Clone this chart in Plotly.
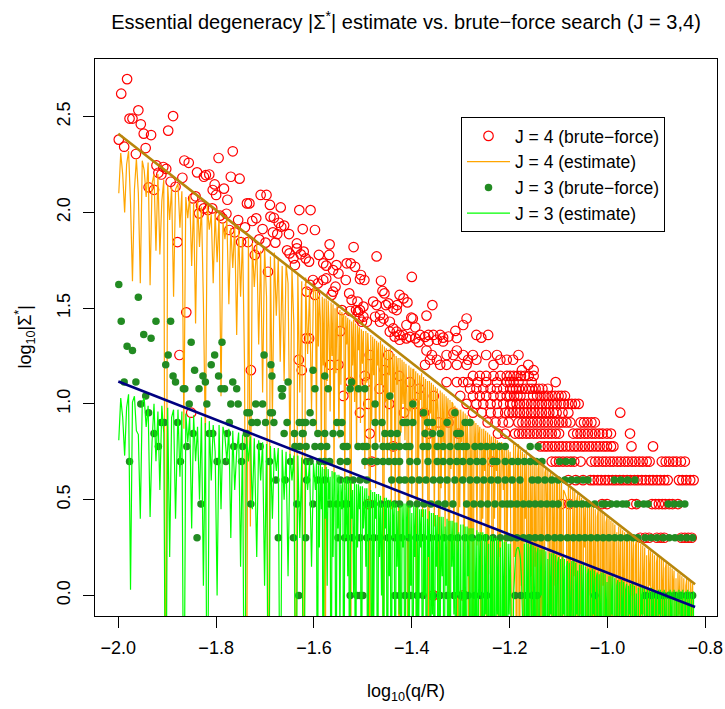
import math
import plotly.graph_objects as go

# ---------------- data ----------------
# common log10(q/R) grid of the two estimate curves (coarser on the left, finer further right)
EST_X = [
    -1.999, -1.995, -1.991, -1.987, -1.983, -1.979, -1.975, -1.971, -1.967, -1.963,
    -1.959, -1.955, -1.951, -1.947, -1.943, -1.939, -1.935, -1.931, -1.927, -1.923,
    -1.919, -1.915, -1.911, -1.907, -1.903, -1.899, -1.895, -1.891, -1.887, -1.883,
    -1.878, -1.874, -1.870, -1.866, -1.862, -1.858, -1.854, -1.850, -1.846, -1.842,
    -1.838, -1.834, -1.830, -1.826, -1.822, -1.818, -1.814, -1.810, -1.806, -1.802,
    -1.798, -1.794, -1.790, -1.786, -1.782, -1.778, -1.774, -1.770, -1.766, -1.762,
    -1.758, -1.754, -1.750, -1.746, -1.742, -1.738, -1.734, -1.730, -1.726, -1.722,
    -1.717, -1.713, -1.709, -1.705, -1.701, -1.697, -1.693, -1.689, -1.685, -1.681,
    -1.677, -1.673, -1.669, -1.665, -1.661, -1.657, -1.653, -1.649, -1.645, -1.641,
    -1.637, -1.633, -1.629, -1.625, -1.621, -1.617, -1.613, -1.609, -1.605, -1.601,
    -1.597, -1.595, -1.593, -1.591, -1.589, -1.587, -1.585, -1.583, -1.581, -1.579,
    -1.577, -1.575, -1.573, -1.571, -1.569, -1.567, -1.565, -1.563, -1.561, -1.559,
    -1.557, -1.555, -1.553, -1.551, -1.549, -1.547, -1.545, -1.543, -1.541, -1.539,
    -1.537, -1.535, -1.533, -1.531, -1.529, -1.527, -1.525, -1.523, -1.521, -1.519,
    -1.517, -1.515, -1.513, -1.511, -1.509, -1.507, -1.505, -1.503, -1.501, -1.499,
    -1.496, -1.494, -1.492, -1.490, -1.488, -1.486, -1.484, -1.482, -1.480, -1.478,
    -1.476, -1.474, -1.472, -1.470, -1.468, -1.466, -1.464, -1.462, -1.460, -1.458,
    -1.456, -1.454, -1.452, -1.450, -1.448, -1.446, -1.444, -1.442, -1.440, -1.438,
    -1.436, -1.434, -1.432, -1.430, -1.428, -1.426, -1.424, -1.422, -1.420, -1.418,
    -1.416, -1.414, -1.412, -1.410, -1.408, -1.406, -1.404, -1.402, -1.400, -1.398,
    -1.396, -1.394, -1.392, -1.390, -1.388, -1.386, -1.384, -1.382, -1.380, -1.378,
    -1.376, -1.374, -1.372, -1.370, -1.368, -1.366, -1.364, -1.362, -1.360, -1.358,
    -1.356, -1.354, -1.352, -1.350, -1.348, -1.346, -1.344, -1.342, -1.340, -1.338,
    -1.336, -1.334, -1.332, -1.330, -1.328, -1.326, -1.324, -1.322, -1.320, -1.318,
    -1.316, -1.314, -1.312, -1.310, -1.308, -1.306, -1.304, -1.302, -1.300, -1.298,
    -1.295, -1.293, -1.291, -1.289, -1.287, -1.285, -1.283, -1.281, -1.279, -1.277,
    -1.275, -1.273, -1.271, -1.269, -1.267, -1.265, -1.263, -1.261, -1.259, -1.257,
    -1.255, -1.253, -1.251, -1.249, -1.247, -1.245, -1.243, -1.241, -1.239, -1.237,
    -1.235, -1.233, -1.231, -1.229, -1.227, -1.225, -1.223, -1.221, -1.219, -1.217,
    -1.215, -1.213, -1.211, -1.209, -1.207, -1.205, -1.203, -1.201, -1.199, -1.197,
    -1.194, -1.192, -1.190, -1.188, -1.186, -1.184, -1.182, -1.180, -1.178, -1.176,
    -1.174, -1.172, -1.170, -1.168, -1.166, -1.164, -1.162, -1.160, -1.158, -1.156,
    -1.154, -1.152, -1.150, -1.148, -1.146, -1.144, -1.142, -1.140, -1.138, -1.136,
    -1.134, -1.132, -1.130, -1.128, -1.126, -1.124, -1.122, -1.120, -1.118, -1.116,
    -1.114, -1.112, -1.110, -1.108, -1.106, -1.104, -1.102, -1.100, -1.098, -1.096,
    -1.094, -1.092, -1.090, -1.088, -1.086, -1.084, -1.082, -1.080, -1.078, -1.076,
    -1.073, -1.071, -1.069, -1.067, -1.065, -1.063, -1.061, -1.059, -1.057, -1.055,
    -1.053, -1.051, -1.049, -1.047, -1.045, -1.043, -1.041, -1.039, -1.037, -1.035,
    -1.033, -1.031, -1.029, -1.027, -1.025, -1.023, -1.021, -1.019, -1.017, -1.015,
    -1.013, -1.011, -1.009, -1.007, -1.005, -1.003, -1.001, -0.999, -0.997, -0.995,
    -0.993, -0.991, -0.989, -0.987, -0.985, -0.983, -0.981, -0.979, -0.977, -0.975,
    -0.973, -0.971, -0.969, -0.967, -0.965, -0.963, -0.961, -0.959, -0.957, -0.955,
    -0.953, -0.951, -0.949, -0.947, -0.945, -0.943, -0.941, -0.939, -0.937, -0.935,
    -0.932, -0.930, -0.928, -0.926, -0.924, -0.922, -0.920, -0.918, -0.916, -0.914,
    -0.912, -0.910, -0.908, -0.906, -0.904, -0.902, -0.900, -0.898, -0.896, -0.894,
    -0.892, -0.890, -0.888, -0.886, -0.884, -0.882, -0.880, -0.878, -0.876, -0.874,
    -0.872, -0.870, -0.868, -0.866, -0.864, -0.862, -0.860, -0.858, -0.856, -0.854,
    -0.852, -0.850, -0.848, -0.846, -0.844, -0.842, -0.840, -0.838, -0.836, -0.834,
    -0.832, -0.830, -0.828, -0.826, -0.824,
]

# log10 of the J = 4 estimate (values below the axis are drops toward zero)
J4_EST_Y = [
    2.10, 2.31, 2.20, 2.00, 2.25, 2.32, 2.05, 1.64, 2.12, 2.28,
    2.10, 1.63, 2.27, 2.22, 2.08, 2.26, 1.62, 2.15, 2.20, 1.80,
    2.20, 1.78, 2.06, 2.17, -1.0, 2.14, 1.96, 2.13, 1.56, 2.12,
    2.15, 1.92, 2.11, 0.87, 2.08, 1.97, 2.09, 1.72, 2.05, 1.42,
    2.06, 1.82, 2.03, 1.53, 0.81, 2.04, 1.91, 1.99, 1.63, 2.00,
    1.74, 1.99, 1.04, 1.95, 1.86, 1.96, 1.52, 1.92, 1.71, 1.93,
    1.36, 1.91, 1.56, 1.87, 1.21, -1.0, 1.88, 0.36, 1.84, 1.61,
    1.84, 1.31, 1.80, 1.06, 1.82, 1.56, -1.0, 1.77, 0.92, 1.79,
    1.46, 1.76, 1.22, 1.72, 1.12, 1.73, 1.63, 0.72, 1.70, 1.41,
    -1.0, 1.68, 1.06, 1.64, -1.0, 1.66, 1.26, 1.60, 0.96, 1.62,
    1.58, 0.86, 1.59, 1.30, 1.57, 1.45, 0.71, 1.56, 1.20, 1.55,
    -1.0, 1.55, 1.12, 1.54, 1.40, 0.96, 1.53, 1.25, 1.52, 0.61,
    1.50, 1.16, 1.51, 1.35, 0.82, 1.49, 1.10, 1.48, 1.40, 1.47,
    0.55, 1.46, 1.31, 1.45, 1.05, 1.44, -1.0, 1.43, 1.20, 1.44,
    1.01, 1.42, 0.76, 1.41, 1.28, 1.40, 0.90, 1.39, 1.21, 1.38,
    0.66, 1.38, 1.11, 1.37, 1.25, -1.0, 1.36, 0.91, 1.35, 1.15,
    1.34, 0.56, 1.33, 1.20, 1.32, 0.80, 1.33, 1.10, 1.31, -1.0,
    1.30, 1.01, 1.29, 0.71, 1.28, 1.15, 1.29, 0.45, 1.27, 1.06,
    1.26, 0.46, 1.25, 1.10, 1.24, -1.0, 1.24, 0.85, 1.23, 1.00,
    1.22, 0.81, 1.21, 1.05, -1.0, 1.20, 0.96, 1.19, 0.51, 1.18,
    1.18, 0.90, 1.17, -1.0, 1.16, 0.71, 1.15, 1.02, 1.16, 0.41,
    1.14, 0.91, 1.13, 0.60, 1.12, -1.0, 1.12, 0.95, 1.11, 0.61,
    1.10, 0.36, 1.09, 0.86, 1.08, 0.95, -1.0, 1.07, 0.56, 1.06,
    0.80, 1.05, 0.31, 1.04, 0.90, 1.03, -1.0, 1.02, 0.66, 1.01,
    1.00, 0.21, 0.99, 0.85, 0.98, -1.0, 0.97, 0.46, 0.97, 0.80,
    0.96, 0.11, 0.95, 0.61, 0.94, 0.75, -1.0, 0.93, 0.31, 0.92,
    -1.0, 0.91, 0.70, 0.90, 0.26, 0.89, 0.78, 0.88, -1.0, 0.87,
    0.40, 0.87, 0.65, 0.86, -1.0, 0.85, 0.11, 0.84, 0.70, 0.83,
    -1.0, 0.83, 0.40, 0.82, 0.65, 0.81, -1.0, 0.80, 0.20, 0.80,
    0.79, 0.55, 0.78, -1.0, 0.77, 0.30, 0.76, 0.60, 0.75, -1.0,
    -1.0, 0.79, 0.20, 0.78, -1.0, 0.72, 0.79, -1.0, 0.76, 0.05,
    0.75, -1.0, 0.74, 0.40, 0.76, -1.0, 0.70, -1.0, 0.73, 0.10,
    0.71, -1.0, 0.72, 0.15, 0.70, -1.0, 0.66, 0.71, -1.0, 0.69,
    -0.2, 0.68, -1.0, 0.64, 0.67, 0.30, 0.66, -1.0, 0.62, 0.65,
    -1.0, 0.63, 0.05, 0.62, -1.0, 0.58, 0.61, -1.0, 0.60, 0.20,
    0.59, -1.0, 0.55, 0.54, 0.52, 0.51, -1.0, 0.57, -0.3, 0.56,
    -1.0, 0.55, 0.10, 0.54, -1.0, 0.50, 0.53, -1.0, 0.52, -0.1,
    0.51, -1.0, 0.50, 0.25, 0.49, -1.0, 0.46, -1.0, 0.48, 0.00,
    0.47, -1.0, 0.47, -0.2, 0.45, -1.0, 0.41, 0.45, -1.0, 0.44,
    -1.0, 0.43, 0.05, 0.42, -1.0, 0.38, 0.41, -1.0, 0.40, -0.3,
    0.39, -1.0, 0.38, 0.10, 0.37, -1.0, 0.33, -1.0, 0.36, -0.1,
    0.35, -1.0, 0.34, -0.2, 0.33, -1.0, 0.29, 0.33, -1.0, 0.32,
    -1.0, 0.31, 0.00, 0.30, -1.0, 0.26, 0.29, -1.0, 0.28, -0.2,
    0.27, -1.0, 0.26, -0.1, 0.25, -1.0, 0.21, -1.0, 0.24, 0.05,
    0.23, -1.0, 0.22, -0.3, 0.21, -1.0, 0.17, 0.21, -1.0, 0.20,
    -1.0, 0.19, -0.1, 0.18, -1.0, 0.14, 0.17, -1.0, 0.16, -0.2,
    0.15, -1.0, 0.14, 0.00, 0.13, -1.0, 0.09, -1.0, 0.12, -0.1,
    0.11, -1.0, 0.10, -0.2, 0.09, -1.0, 0.05, 0.09, -1.0, 0.08,
    -1.0, 0.07, -0.1, 0.06, -1.0,
]

# log10 of the J = 3 estimate
J3_EST_Y = [
    0.81, 1.03, 0.93, 0.73, 0.98, 1.05, 0.03, 1.01, 1.04, 0.86,
    0.84, 0.40, 1.01, 1.03, 0.88, 0.99, 0.41, 0.80, 1.00, 0.70,
    0.96, 0.55, 0.99, 0.85, -1.0, 0.98, 0.20, 0.93, 0.97, 0.40,
    0.97, 0.62, 0.96, -1.0, 0.95, 0.80, 0.93, 0.35, 0.94, 0.70,
    0.88, 0.50, 0.93, 0.05, 0.90, -1.0, 0.91, 0.60, 0.89, 0.75,
    0.00, 0.89, 0.45, 0.88, 0.83, 0.70, 0.87, 0.30, 0.86, 0.55,
    0.75, 0.85, 0.15, 0.84, -1.0, 0.83, 0.70, 0.83, 0.45, 0.82,
    0.20, 0.81, 0.60, 0.80, 0.05, 0.79, -1.0, 0.78, 0.40, 0.77,
    0.65, 0.77, -1.0, 0.76, 0.50, 0.75, 0.10, 0.74, 0.60, 0.73,
    -1.0, 0.73, 0.30, 0.72, -1.0, 0.71, 0.55, 0.70, 0.15, 0.69,
    0.55, 0.69, -1.0, 0.68, 0.25, 0.69, 0.45, 0.67, -1.0, 0.66,
    0.40, 0.67, 0.05, 0.66, 0.50, 0.62, -1.0, 0.65, 0.20, 0.64,
    0.64, -1.0, 0.63, 0.35, 0.63, -0.2, 0.58, 0.45, 0.61, -1.0,
    0.61, 0.30, 0.62, 0.10, 0.60, -1.0, 0.60, 0.40, 0.55, 0.00,
    0.59, -1.0, 0.58, 0.25, 0.58, 0.45, 0.57, -1.0, 0.57, 0.35,
    0.56, 0.15, 0.56, -1.0, 0.52, 0.30, 0.55, -1.0, 0.54, -0.2,
    0.54, 0.40, 0.53, -1.0, 0.53, 0.20, 0.52, 0.00, 0.48, -1.0,
    0.51, 0.35, 0.51, -1.0, 0.50, 0.10, 0.50, -1.0, 0.49, 0.30,
    0.49, -1.0, 0.48, 0.15, 0.44, -0.1, 0.47, -1.0, 0.47, 0.25,
    0.48, -1.0, 0.48, 0.30, 0.47, -1.0, 0.47, 0.05, 0.43, -1.0,
    0.47, 0.20, 0.46, -1.0, 0.46, -0.2, 0.45, 0.25, 0.45, -1.0,
    0.45, 0.00, 0.45, -1.0, 0.40, 0.20, 0.44, -1.0, 0.43, -0.1,
    0.43, -1.0, 0.42, 0.15, 0.42, -1.0, 0.41, -0.2, 0.41, 0.10,
    0.41, -1.0, 0.36, 0.05, 0.40, -1.0, 0.39, -1.0, 0.39, 0.15,
    0.39, -0.1, 0.38, -1.0, 0.38, 0.00, 0.33, -1.0, 0.37, -1.0,
    0.37, -0.3, 0.36, -1.0, 0.36, 0.10, 0.35, -1.0, 0.35, -1.0,
    0.35, -1.0, 0.30, -0.2, 0.34, -1.0, 0.33, 0.00, 0.33, -1.0,
    0.33, -1.0, 0.32, -0.1, 0.32, -1.0, 0.27, -1.0, 0.31, -0.3,
    0.31, -1.0, 0.30, -1.0, 0.30, -0.1, 0.29, -1.0, 0.25, -1.0,
    0.29, -0.2, 0.28, -1.0, 0.28, -1.0, 0.27, -0.1, 0.27, -1.0,
    -1.0, 0.00, 0.15, 0.21, 0.24, 0.25, 0.25, 0.23, 0.19, 0.10,
    -0.1, -1.0, 0.27, -1.0, 0.28, -0.2, 0.27, -1.0, 0.25, 0.27,
    -1.0, 0.26, -0.3, 0.25, -1.0, 0.22, 0.25, -1.0, 0.24, 0.00,
    0.24, -1.0, 0.24, -0.2, 0.23, -1.0, 0.19, -1.0, 0.22, -0.1,
    0.22, -1.0, 0.22, -1.0, 0.21, -0.3, 0.17, 0.20, -1.0, 0.19,
    -1.0, 0.20, -0.1, 0.19, -1.0, 0.15, 0.18, -1.0, 0.17, -0.2,
    0.18, -1.0, 0.18, -1.0, 0.17, -0.1, 0.13, -1.0, 0.16, -1.0,
    0.16, -0.2, 0.16, -1.0, 0.15, -1.0, 0.11, 0.14, -1.0, 0.13,
    -1.0, 0.14, -0.1, 0.13, -1.0, 0.09, 0.12, -1.0, 0.11, -0.3,
    0.12, -1.0, 0.12, -1.0, 0.11, -0.2, 0.07, -1.0, 0.10, -1.0,
    0.10, -0.1, 0.10, -1.0, 0.09, -1.0, 0.05, 0.08, -1.0, 0.07,
    -1.0, 0.08, -0.2, 0.07, -1.0, 0.03, 0.06, -1.0, 0.05, -0.1,
    0.06, -1.0, 0.06, -1.0, 0.05, -0.3, 0.01, -1.0, 0.04, -1.0,
    0.05, -0.1, 0.04, -1.0, 0.04, -1.0, 0.00, 0.03, -1.0, 0.03,
    -1.0, 0.04, -0.2, 0.03, -1.0, 0.00, 0.02, -1.0, 0.03, -0.1,
    0.03, -1.0, 0.02, -1.0, 0.03, -0.3, 0.00, -1.0, 0.02, -1.0,
    0.03, -0.2, 0.02, -1.0, 0.03, -1.0, -0.01, 0.02, -1.0, 0.03,
    -1.0, 0.02, -0.2, 0.03, -1.0, 0.00, 0.02, -1.0, 0.03, -0.2,
    0.02, -1.0, 0.01, -1.0, 0.02,
]

# J = 4 brute-force: scattered upper points (log10 values read directly)
J4_SCAT_X = [
    -1.982, -1.994, -1.959, -1.977, -1.971, -1.954, -1.888, -1.898, -1.948, -1.933,
    -1.999, -1.988, -1.944, -1.964, -1.766, -1.795, -1.865, -1.856, -1.922, -1.908,
    -1.902, -1.918, -1.912, -1.869, -1.839, -1.825, -1.821, -1.814, -1.893, -1.883,
    -1.938, -1.927, -1.770, -1.752, -1.803, -1.807, -1.800, -1.784, -1.777, -1.847,
    -1.842, -1.831, -1.825, -1.835, -1.817, -1.808, -1.792, -1.787, -1.779, -1.737,
    -1.732, -1.709, -1.697, -1.690, -1.668, -1.630, -1.623, -1.755, -1.741, -1.773,
    -1.762, -1.726, -1.718, -1.705, -1.689, -1.682, -1.672, -1.667, -1.661, -1.684,
    -1.675, -1.651, -1.749, -1.735, -1.712, -1.699, -1.679, -1.635, -1.655, -1.650,
    -1.642, -1.627, -1.621, -1.635, -1.617, -1.639, -1.721, -1.713, -1.694, -1.879,
    -1.861, -1.851, -1.729, -1.616,
    -1.607, -1.598, -1.568, -1.519, -1.472, -1.610, -1.590, -1.569, -1.581, -1.575,
    -1.554, -1.533, -1.525, -1.516, -1.561, -1.550, -1.535, -1.504, -1.497, -1.506,
    -1.602, -1.592, -1.581, -1.575, -1.608, -1.598, -1.615, -1.561, -1.556, -1.564,
    -1.528, -1.523, -1.511, -1.514, -1.506, -1.499, -1.463, -1.400, -1.460, -1.456,
    -1.479, -1.472, -1.453, -1.448, -1.438, -1.430, -1.431, -1.425, -1.417, -1.409,
    -1.358, -1.526, -1.510, -1.499, -1.502, -1.492, -1.507, -1.543, -1.465, -1.475,
    -1.458, -1.465, -1.445, -1.438, -1.431, -1.425, -1.445, -1.435, -1.411, -1.393,
    -1.398, -1.401, -1.370, -1.418, -1.411, -1.404, -1.393, -1.383, -1.373, -1.366,
    -1.356, -1.342, -1.336, -1.311, -1.295, -1.288, -1.268, -1.258, -1.244, -1.610,
    -1.425, -1.366, -1.349, -1.336, -1.308, -1.325, -1.546, -1.482, -1.489,
]
J4_SCAT_Y = [
    2.696, 2.620, 2.533, 2.490, 2.490, 2.460, 2.503, 2.427, 2.411, 2.404,
    2.380, 2.343, 2.336, 2.305, 2.319, 2.284, 2.271, 2.259, 2.245, 2.237,
    2.227, 2.207, 2.198, 2.181, 2.209, 2.186, 2.195, 2.198, 2.160, 2.134,
    2.131, 2.118, 2.186, 2.176, 2.146, 2.117, 2.091, 2.124, 2.066, 2.073,
    2.084, 2.035, 2.021, 1.995, 2.012, 2.021, 1.983, 1.969, 1.993, 2.047,
    2.047, 2.091, 2.091, 2.039, 2.026, 2.012, 1.913, 1.960, 1.922, 1.908,
    1.896, 1.955, 1.969, 1.913, 1.978, 1.972, 1.946, 1.925, 1.931, 1.896,
    1.887, 1.887, 1.845, 1.845, 1.859, 1.842, 1.842, 1.838, 1.802, 1.786,
    1.760, 1.781, 1.795, 1.812, 1.760, 1.725, 1.778, 1.809, 1.690, 1.845,
    1.478, 0.954, 1.176, 1.342,
    2.012, 1.908, 1.833, 1.819, 1.770, 1.743, 1.778, 1.778, 1.734, 1.722,
    1.725, 1.734, 1.734, 1.716, 1.699, 1.681, 1.647, 1.673, 1.647, 1.652,
    1.647, 1.629, 1.647, 1.655, 1.621, 1.569, 1.586, 1.586, 1.612, 1.569,
    1.577, 1.543, 1.534, 1.490, 1.490, 1.508, 1.643, 1.663, 1.590, 1.577,
    1.534, 1.516, 1.516, 1.525, 1.499, 1.516, 1.490, 1.569, 1.551, 1.530,
    1.516, 1.485, 1.481, 1.455, 1.429, 1.429, 1.446, 1.490, 1.464, 1.455,
    1.446, 1.429, 1.429, 1.394, 1.377, 1.360, 1.377, 1.351, 1.412, 1.400,
    1.446, 1.450, 1.461, 1.360, 1.342, 1.350, 1.342, 1.360, 1.350, 1.360,
    1.360, 1.360, 1.346, 1.381, 1.412, 1.446, 1.360, 1.346, 1.360, 1.342,
    1.335, 1.326, 1.335, 1.326, 1.344, 1.352, 1.380, 0.699, 0.477,
]

# J = 4 brute-force: quantised levels |Sigma*| = count, with the log10(q/R) of each hit
J4_BAND_COUNT = [1, 2, 3, 4, 5, 6, 7, 8, 9, 10, 11, 12, 13, 14, 15, 16, 17, 18, 19, 21]
J4_BAND_X = [
    [-1.356, -1.295],
    [-0.933, -0.923, -0.915, -0.899, -0.891, -0.884, -0.849, -0.842, -0.835, -0.828],
    [-1.094, -1.078, -1.011, -1.001, -0.950, -0.941, -0.909, -0.902, -0.895, -0.888,
     -0.882, -0.874, -0.867, -0.856],
    [-1.080, -1.065, -1.050, -1.035, -1.028, -1.020, -1.013, -1.005, -0.998, -0.990,
     -0.983, -0.975, -0.968, -0.960, -0.953, -0.945, -0.938, -0.930, -0.922, -0.914,
     -0.907, -0.899, -0.892, -0.884, -0.877, -0.854, -0.847, -0.839, -0.831, -0.824],
    [-1.236, -1.114, -1.106, -1.099, -1.091, -1.083, -1.075, -1.068, -1.055, -1.033,
     -1.025, -1.018, -1.010, -1.003, -0.995, -0.988, -0.980, -0.973, -0.965, -0.958,
     -0.950, -0.943, -0.935, -0.928, -0.920, -0.914, -0.889, -0.881, -0.874, -0.866,
     -0.859, -0.850, -0.842],
    [-1.438, -1.137, -1.129, -1.122, -1.114, -1.107, -1.099, -1.092, -1.084, -1.076,
     -1.068, -1.061, -1.053, -1.046, -1.038, -1.031, -1.023, -1.016, -1.008, -1.001,
     -0.993, -0.988, -0.951, -0.907],
    [-1.486, -1.366, -1.305, -1.224, -1.209, -1.189, -1.181, -1.174, -1.166, -1.159,
     -1.151, -1.144, -1.136, -1.129, -1.121, -1.114, -1.106, -1.099, -1.070, -1.062,
     -1.055, -1.047, -1.040, -1.032, -1.025, -1.017, -1.010, -1.001, -0.993, -0.954],
    [-1.345, -1.325, -1.245, -1.229, -1.214, -1.202, -1.182, -1.174, -1.167, -1.159,
     -1.152, -1.144, -1.137, -1.129, -1.122, -1.114, -1.107, -1.099, -1.092, -1.084,
     -1.076, -1.055, -1.048, -1.041, -1.033, -1.026],
    [-1.506, -1.416, -1.375, -1.315, -1.275, -1.257, -1.239, -1.224, -1.209, -1.201,
     -1.194, -1.186, -1.179, -1.171, -1.164, -1.156, -1.149, -1.141, -1.134, -1.126,
     -1.119, -1.111, -1.104, -1.092, -1.080, -0.974],
    [-1.489, -1.446, -1.395, -1.288, -1.268, -1.254, -1.239, -1.226, -1.213, -1.199,
     -1.194, -1.186, -1.179, -1.171, -1.164, -1.156, -1.149, -1.141, -1.134, -1.126,
     -1.119, -1.111, -1.104, -1.096, -1.089, -1.080, -1.073, -1.066, -1.059],
    [-1.540, -1.355, -1.301, -1.275, -1.261, -1.248, -1.233, -1.219, -1.206, -1.199,
     -1.191, -1.184, -1.178, -1.152, -1.144, -1.137, -1.129, -1.122, -1.114, -1.107,
     -1.100, -1.094, -1.087],
    [-1.466, -1.385, -1.281, -1.268, -1.254, -1.239, -1.226, -1.213, -1.199, -1.194,
     -1.187, -1.181, -1.174, -1.167, -1.160, -1.154, -1.147, -1.140, -1.133, -1.122],
    [-1.526, -1.492, -1.404, -1.329, -1.308, -1.295, -1.285, -1.265, -1.248, -1.226,
     -1.206, -1.199, -1.192, -1.182, -1.155, -1.106],
    [-1.496, -1.426, -1.275, -1.261, -1.248, -1.233, -1.219, -1.206, -1.199, -1.192,
     -1.184, -1.177, -1.169, -1.161, -1.151],
    [-1.625, -1.456, -1.175, -1.151],
    [-1.567, -1.550, -1.373, -1.342, -1.329, -1.308, -1.288, -1.233, -1.162],
    [-1.631, -1.363, -1.349, -1.285, -1.268, -1.219, -1.206, -1.193],
    [-1.875, -1.486, -1.448, -1.359, -1.329, -1.315, -1.295, -1.275, -1.248, -1.226, -1.182],
    [-1.370, -1.308],
    [-1.386],
]

# J = 3 brute-force: quantised levels |Sigma*| = count
J3_BAND_COUNT = [1, 2, 3, 4, 5, 6, 7, 8, 9, 10, 11, 12, 13, 14, 15, 16, 18, 19, 20, 21, 22, 23, 27, 36, 42]
J3_BAND_X = [
    [-1.631, -1.526, -1.512, -1.506, -1.500, -1.435, -1.425, -1.414, -1.402, -1.389,
     -1.377, -1.356, -1.342, -1.328, -1.314, -1.300, -1.285, -1.271, -1.259, -1.247,
     -1.189, -1.177, -1.165, -1.153, -1.144, -1.026, -0.923, -0.911, -0.899, -0.886,
     -0.874, -0.862, -0.850, -0.838, -0.826],
    [-1.839, -1.673, -1.642, -1.617, -1.551, -1.537, -1.522, -1.506, -1.492, -1.478,
     -1.465, -1.449, -1.435, -1.421, -1.406, -1.391, -1.377, -1.363, -1.348, -1.334,
     -1.320, -1.306, -1.291, -1.277, -1.263, -1.249, -1.234, -1.219, -1.205, -1.197,
     -1.185, -1.172, -1.160, -1.148, -1.136, -1.122, -1.108, -1.096, -1.082, -1.070,
     -1.058, -1.046, -1.034, -1.021, -1.009, -0.997, -0.985, -0.973, -0.960, -0.948,
     -0.938, -0.923, -0.911, -0.899, -0.886, -0.874, -0.862, -0.850, -0.838, -0.826],
    [-1.831, -1.729, -1.635, -1.602, -1.568, -1.553, -1.540, -1.532, -1.492, -1.478,
     -1.463, -1.449, -1.435, -1.425, -1.404, -1.389, -1.375, -1.361, -1.346, -1.332,
     -1.316, -1.288, -1.273, -1.259, -1.245, -1.230, -1.215, -1.205, -1.197, -1.185,
     -1.172, -1.160, -1.148, -1.136, -1.124, -1.112, -1.101, -1.076, -1.064, -1.052,
     -1.040, -1.026, -1.011, -1.005, -0.993, -0.981, -0.969, -0.961, -0.938, -0.926,
     -0.917, -0.876, -0.864, -0.852, -0.842],
    [-1.678, -1.659, -1.615, -1.592, -1.578, -1.546, -1.532, -1.520, -1.506, -1.492,
     -1.441, -1.425, -1.414, -1.400, -1.385, -1.371, -1.356, -1.342, -1.328, -1.312,
     -1.296, -1.281, -1.267, -1.253, -1.238, -1.224, -1.209, -1.195, -1.179, -1.154,
     -1.142, -1.128, -1.114, -1.101, -1.087, -1.074, -1.062, -1.050, -1.040, -0.986,
     -0.973, -0.959, -0.944],
    [-1.977, -1.873, -1.798, -1.780, -1.748, -1.691, -1.648, -1.615, -1.608, -1.588,
     -1.578, -1.568, -1.546, -1.532, -1.496, -1.483, -1.471, -1.459, -1.447, -1.435,
     -1.425, -1.404, -1.389, -1.367, -1.348, -1.336, -1.322, -1.308, -1.296, -1.281,
     -1.267, -1.255, -1.234, -1.226, -1.209, -1.195, -1.183, -1.170, -1.158, -1.146,
     -1.134, -1.098, -1.085, -1.072],
    [-1.918, -1.860, -1.764, -1.746, -1.710, -1.639, -1.629, -1.616, -1.598, -1.586,
     -1.574, -1.540, -1.532, -1.510, -1.500, -1.492, -1.475, -1.459, -1.449, -1.437,
     -1.425, -1.412, -1.404, -1.377, -1.367, -1.348, -1.336, -1.322, -1.306, -1.296,
     -1.288, -1.271, -1.259, -1.247, -1.234, -1.221, -1.209, -1.158, -1.142],
    [-1.927, -1.847, -1.814, -1.807, -1.777, -1.738, -1.661, -1.640, -1.624, -1.622,
     -1.592, -1.578, -1.561, -1.546, -1.455, -1.443, -1.430, -1.373, -1.358, -1.342,
     -1.308, -1.301],
    [-1.912, -1.906, -1.879, -1.773, -1.727, -1.716, -1.699, -1.682, -1.655, -1.630,
     -1.623, -1.617, -1.602, -1.553, -1.543, -1.475, -1.461, -1.418, -1.410, -1.398,
     -1.368, -1.358, -1.328, -1.291, -1.281],
    [-1.938, -1.737, -1.732, -1.689, -1.685, -1.608, -1.376, -1.312],
    [-1.954, -1.855, -1.819, -1.770, -1.755, -1.719, -1.705, -1.475, -1.398],
    [-1.944, -1.665, -1.445],
    [-1.867, -1.864, -1.835, -1.790, -1.783, -1.758, -1.667, -1.664, -1.598, -1.571,
     -1.526, -1.509, -1.496],
    [-1.988, -1.964, -1.883, -1.822, -1.766, -1.653, -1.523],
    [-1.888, -1.827, -1.795, -1.686, -1.578],
    [-1.844, -1.602],
    [-1.903, -1.810, -1.688],
    [-1.898, -1.803, -1.702],
    [-1.971],
    [-1.982],
    [-1.851, -1.788],
    [-1.933],
    [-1.948],
    [-1.994, -1.923, -1.893],
    [-1.959],
    [-1.999],
]

# straight reference lines (end points)
FIT4_X = [-2.0, -0.821]
FIT4_Y = [2.411, 0.058]
FIT3_X = [-2.0, -0.821]
FIT3_Y = [1.117, -0.061]

X_TICKS = [-2.0, -1.8, -1.6, -1.4, -1.2, -1.0, -0.8]
Y_TICKS = [0.0, 0.5, 1.0, 1.5, 2.0, 2.5]

# ---------------- assemble ----------------
j4_x = list(J4_SCAT_X)
j4_y = list(J4_SCAT_Y)
for c, xs in zip(J4_BAND_COUNT, J4_BAND_X):
    j4_x += xs
    j4_y += [math.log10(c)] * len(xs)

j3_x, j3_y = [], []
for c, xs in zip(J3_BAND_COUNT, J3_BAND_X):
    j3_x += xs
    j3_y += [math.log10(c)] * len(xs)

FONT = "Liberation Sans, Arial, Helvetica, sans-serif"

fig = go.Figure()
fig.add_trace(go.Scatter(
    x=j4_x, y=j4_y, mode="markers", name="J = 4 (brute\u2212force)",
    marker=dict(symbol="circle-open", size=9.5, color="#FF0000", line=dict(width=1.2, color="#FF0000")),
))
fig.add_trace(go.Scatter(
    x=EST_X, y=J4_EST_Y, mode="lines", name="J = 4 (estimate)",
    line=dict(color="#FFA500", width=1.2),
))
fig.add_trace(go.Scatter(
    x=j3_x, y=j3_y, mode="markers", name="J = 3 (brute\u2212force)",
    marker=dict(symbol="circle", size=7.5, color="#228B22", line=dict(width=0)),
))
fig.add_trace(go.Scatter(
    x=EST_X, y=J3_EST_Y, mode="lines", name="J = 3 (estimate)",
    line=dict(color="#00FF00", width=1.2),
))
fig.add_trace(go.Scatter(
    x=FIT4_X, y=FIT4_Y, mode="lines", showlegend=False,
    line=dict(color="#B8860B", width=2.6),
))
fig.add_trace(go.Scatter(
    x=FIT3_X, y=FIT3_Y, mode="lines", showlegend=False,
    line=dict(color="#000080", width=2.6),
))

axis_common = dict(
    showline=True, linecolor="black", linewidth=1, mirror=True,
    ticks="outside", ticklen=11, tickwidth=1, tickcolor="black",
    showgrid=False, zeroline=False, automargin=False, ticklabeloverflow="allow",
    tickfont=dict(size=18, color="black", family=FONT),
)

fig.update_layout(
    width=725, height=709,
    margin=dict(l=95, r=8, t=59, b=93),
    paper_bgcolor="white", plot_bgcolor="white",
    font=dict(family=FONT, size=18, color="black"),
    title=dict(
        text="Essential degeneracy |\u03a3<sup>*</sup>| estimate vs. brute\u2212force search (J = 3,4)",
        x=0.5, xref="paper", xanchor="center", y=1 - 22 / 709, yref="container", yanchor="middle",
        font=dict(size=20, family=FONT, color="black"),
    ),
    xaxis=dict(
        range=[-2.0476, -0.7762], tickvals=X_TICKS, tickformat=".1f",
        ticklabelstandoff=4, **axis_common,
    ),
    yaxis=dict(
        range=[-0.1076, 2.801], tickvals=Y_TICKS, tickformat=".1f", tickangle=-90,
        ticklabelstandoff=6, **axis_common,
    ),
    legend=dict(
        x=(461 - 95) / 622, y=(616 - 117) / 557, xanchor="left", yanchor="top",
        bordercolor="black", borderwidth=1, bgcolor="white",
        font=dict(size=17.5, family=FONT, color="black"),
        tracegroupgap=0, itemwidth=43,
    ),
    showlegend=True,
    annotations=[
        dict(text="log<sub>10</sub>(q/R)", xref="paper", yref="paper",
             x=0.5, y=(616 - 692) / 557, xanchor="center", yanchor="middle",
             showarrow=False, font=dict(size=18, family=FONT, color="black")),
        dict(text="log<sub>10</sub>|\u03a3<sup>*</sup>|", xref="paper", yref="paper",
             x=(25 - 95) / 622, y=0.5, xanchor="center", yanchor="middle", textangle=-90,
             showarrow=False, font=dict(size=18, family=FONT, color="black")),
    ],
)

fig.write_html("out.html")
